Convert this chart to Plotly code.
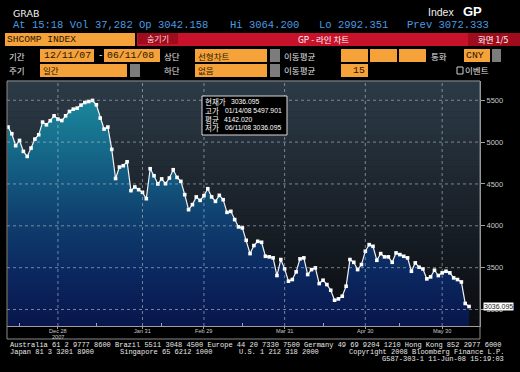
import plotly.graph_objects as go
import pandas as pd

# ---------------- data ----------------
holidays = ["2007-12-31", "2008-01-01", "2008-02-06", "2008-02-07", "2008-02-08",
            "2008-02-11", "2008-02-12", "2008-04-04", "2008-05-01", "2008-05-02", "2008-06-09"]
dates = [d for d in pd.bdate_range("2007-12-11", "2008-06-11") if d.strftime("%Y-%m-%d") not in holidays]
date_labels = [d.strftime("%Y-%m-%d") for d in dates]

values = [
    5180, 5100, 4957, 5020, 4889, 4829, 4929, 5036, 5088, 5239,
    5207, 5255, 5314, 5275, 5258, 5314, 5366, 5394, 5406, 5442,
    5473, 5485, 5497.901, 5446, 5287, 5156, 5180, 4913, 4565, 4702,
    4718, 4765, 4420, 4464, 4432, 4400, 4324, 4682, 4598, 4500,
    4560, 4503, 4571, 4670, 4578, 4531, 4372, 4193, 4253, 4345,
    4304, 4360, 4443, 4345, 4292, 4364, 4312, 4161, 4173, 4074,
    3987, 3975, 3827, 3668, 3764, 3815, 3803, 3636, 3629, 3617,
    3406, 3597, 3486, 3338, 3358, 3450, 3605, 3617, 3418, 3477,
    3497, 3310, 3350, 3298, 3230, 3111, 3127, 3159, 3278, 3597,
    3564, 3477, 3537, 3696, 3775, 3755, 3588, 3668, 3629, 3629,
    3564, 3676, 3656, 3636, 3617, 3457, 3557, 3505, 3485, 3366,
    3390, 3469, 3406, 3438, 3457, 3438, 3378, 3358, 3329, 3072.333,
    3036.095,
]

tick_dates = ["2007-12-28", "2008-01-31", "2008-02-29", "2008-03-31", "2008-04-30", "2008-05-30"]
tick_text = ["Dec 28", "Jan 31", "Feb 29", "Mar 31", "Apr 30", "May 30"]
year_label = "2007"
minor_dates = ["2007-12-14", "2008-01-15", "2008-02-14", "2008-03-14", "2008-04-15", "2008-05-15"]
y_ticks = [3000, 3500, 4000, 4500, 5000, 5500]
last_value = values[-1]

x_idx = list(range(len(values)))
tick_idx = [date_labels.index(d) for d in tick_dates]
minor_idx = [date_labels.index(d) for d in minor_dates]

# ---------------- geometry helpers ----------------
W, H = 520, 372
PL, PT, PW, PH = 7, 81, 473, 245
YMIN, YMAX = 2803, 5730
XMIN, XMAX = -0.26, 122.85


def px(x):
    return (x - PL) / PW


def py(y):
    return (PT + PH - y) / PH


shapes = []
annotations = []


def rect(x0, y0, x1, y1, color, line=None, layer="above"):
    shapes.append(dict(type="rect", xref="paper", yref="paper",
                       x0=px(x0), x1=px(x1), y0=py(y1), y1=py(y0),
                       fillcolor=color, layer=layer,
                       line=dict(width=1 if line else 0, color=line or color)))


def txt(x, y, s, size=9, color="#e6e6e6", family="Noto Sans CJK KR", anchor="left", bold=False):
    if bold:
        s = "<b>" + s + "</b>"
    annotations.append(dict(xref="paper", yref="paper", x=px(x), y=py(y), text=s,
                            showarrow=False, xanchor=anchor, yanchor="middle", borderpad=0,
                            font=dict(size=size, color=color, family=family)))


def hexmix(c1, c2, t):
    a = [int(c1[i:i + 2], 16) for i in (1, 3, 5)]
    b = [int(c2[i:i + 2], 16) for i in (1, 3, 5)]
    return "#%02x%02x%02x" % tuple(round(a[k] + (b[k] - a[k]) * t) for k in range(3))


# plot background gradient (bands)
NB = 40
for k in range(NB):
    t = k / (NB - 1)
    shapes.append(dict(type="rect", xref="paper", yref="paper", x0=0, x1=1,
                       y0=1 - (k + 1) / NB, y1=1 - k / NB + 0.002,
                       fillcolor=hexmix("#2c3a46", "#0a0c10", t), layer="below",
                       line=dict(width=0)))

# dotted gridlines above the fill
for v in y_ticks:
    shapes.append(dict(type="line", xref="paper", yref="y", x0=0, x1=1, y0=v, y1=v,
                       layer="above", line=dict(color="rgba(200,210,220,0.55)", width=1, dash="dot")))
for i in tick_idx:
    shapes.append(dict(type="line", xref="x", yref="paper", x0=i, x1=i, y0=0, y1=1,
                       layer="above", line=dict(color="rgba(200,210,220,0.55)", width=1, dash="dot")))

# tooltip box
rect(202, 96, 287, 135, "#000000", line="#d8d8d8")
for yy, lab in zip([101, 110, 119, 127], ["현재가", "고가", "평균", "저가"]):
    txt(203.5, yy, lab, size=7.5, color="#ffffff")
txt(230, 101.5, "3036.095", size=6.8, color="#ffffff", family="Liberation Sans")
txt(224, 110.5, "01/14/08 5497.901", size=6.8, color="#ffffff", family="Liberation Sans")
txt(223, 119.5, "4142.020", size=6.8, color="#ffffff", family="Liberation Sans")
txt(224, 127.5, "06/11/08 3036.095", size=6.8, color="#ffffff", family="Liberation Sans")

# chart panel border
shapes.append(dict(type="rect", xref="paper", yref="paper", x0=px(7), x1=px(480),
                   y0=py(339), y1=py(81), line=dict(color="#8a8a8a", width=1),
                   fillcolor="rgba(0,0,0,0)", layer="above"))

# x tick labels (drawn at the tick positions)
for i, lab in zip(tick_idx, tick_text):
    annotations.append(dict(xref="x", yref="paper", x=i, y=py(330.5), text=lab,
                            showarrow=False, xanchor="center", yanchor="middle", borderpad=0,
                            font=dict(size=5.6, color="#c8c8c8", family="Liberation Sans")))
annotations.append(dict(xref="x", yref="paper", x=tick_idx[0], y=py(336.8), text=year_label,
                        showarrow=False, xanchor="center", yanchor="middle", borderpad=0,
                        font=dict(size=5.6, color="#c8c8c8", family="Liberation Sans")))

# ---------------- header ----------------
txt(12, 13, "GRAB", size=9.5, color="#f0f0f0", family="DejaVu Sans")
txt(427, 12, "Index", size=10.5, color="#f0f0f0", family="Liberation Sans")
txt(462, 12, "GP", size=13, color="#ffffff", family="Liberation Sans", bold=True)
blue = "#4b9be0"
txt(12, 25, "At 15:18 Vol 37,282 Op 3042.158", size=10.5, color=blue, family="Liberation Mono")
txt(229, 25, "Hi 3064.200", size=10.5, color=blue, family="Liberation Mono")
txt(318, 25, "Lo 2992.351", size=10.5, color=blue, family="Liberation Mono")
txt(406, 25, "Prev 3072.333", size=10.5, color=blue, family="Liberation Mono")

ORANGE = "#f5a23a"
DARK = "#2a1600"
GRAY = "#7c7c7c"
RED = "#c8122c"
DRED = "#9e0c1e"

rect(5, 33, 135, 46, ORANGE)
txt(6, 39.5, "SHCOMP INDEX", size=9.6, color=DARK, family="Liberation Mono")
rect(137, 33, 520, 46, RED)
rect(138, 33, 178, 44, DRED)
txt(158, 38.5, "숨기기", size=8, color="#f4dede", anchor="center")
txt(323, 39.5, "GP - 라인 차트", size=8.5, color="#ffffff", anchor="center")
rect(468, 33, 520, 46, DRED)
txt(494, 39.5, "화면 1/5", size=8.5, color="#ffffff", anchor="center")

# row 4
r4 = 55.5
txt(8, r4, "기간", size=8.5)
rect(40, 49, 94, 62, ORANGE)
txt(43, r4, "12/11/07", size=9.8, color=DARK, family="Liberation Mono")
txt(97, r4, "-", size=9, color="#ffffff", family="Liberation Mono")
rect(104, 49, 160, 62, ORANGE)
txt(106, r4, "06/11/08", size=9.8, color=DARK, family="Liberation Mono")
txt(163, r4, "상단", size=8.5)
rect(195, 49, 267, 62, ORANGE)
txt(197, r4, "선형차트", size=8.5, color=DARK)
rect(267, 49, 270, 62, "#000000")
rect(270, 49, 280, 62, GRAY)
txt(283, r4, "이동평균", size=8.5)
rect(341, 49, 368, 62, ORANGE)
rect(370, 49, 397, 62, ORANGE)
rect(399, 49, 426, 62, ORANGE)
txt(430, r4, "통화", size=8.5)
rect(464, 49, 490, 62, ORANGE)
txt(465, r4, "CNY", size=9.8, color=DARK, family="Liberation Mono")
rect(490, 49, 492, 62, "#000000")
rect(492, 49, 501, 62, GRAY)

# row 5
r5 = 70.5
txt(8, r5, "주기", size=8.5)
rect(40, 64, 127, 77, ORANGE)
txt(42, r5, "일간", size=8.5, color=DARK)
rect(127, 64, 130, 77, "#000000")
rect(130, 64, 140, 77, GRAY)
txt(163, r5, "하단", size=8.5)
rect(195, 64, 267, 77, ORANGE)
txt(197, r5, "없음", size=8.5, color=DARK)
rect(267, 64, 270, 77, "#000000")
rect(270, 64, 280, 77, GRAY)
txt(283, r5, "이동평균", size=8.5)
rect(341, 64, 368, 77, ORANGE)
txt(366, r5, "15", size=9.8, color=DARK, family="Liberation Mono", anchor="right")
shapes.append(dict(type="rect", xref="paper", yref="paper", x0=px(457), x1=px(463),
                   y0=py(74), y1=py(67), line=dict(color="#d0d0d0", width=1),
                   fillcolor="rgba(0,0,0,0)"))
txt(464, r5, "이벤트", size=8.5)

# ---------------- footer ----------------
FOOT = "#e8e8e8"
FS = 7.0
txt(9, 344.5, "Australia 61 2 9777 8600 Brazil 5511 3048 4500 Europe 44 20 7330 7500 Germany 49 69 9204 1210 Hong Kong 852 2977 6000",
    size=FS, color=FOOT, family="Liberation Mono")
txt(9, 351.5, "Japan 81 3 3201 8900", size=FS, color=FOOT, family="Liberation Mono")
txt(119, 351.5, "Singapore 65 6212 1000", size=FS, color=FOOT, family="Liberation Mono")
txt(238, 351.5, "U.S. 1 212 318 2000", size=FS, color=FOOT, family="Liberation Mono")
txt(505, 351.5, "Copyright 2008 Bloomberg Finance L.P.", size=FS, color=FOOT, family="Liberation Mono", anchor="right")
txt(505, 358.5, "G587-303-1 11-Jun-08 15:19:03", size=FS, color=FOOT, family="Liberation Mono", anchor="right")

# last value label
annotations.append(dict(xref="paper", yref="y", x=1, y=last_value, text="3036.095",
                        showarrow=False, xanchor="left", yanchor="middle", xshift=3,
                        bgcolor="#ffffff", borderpad=0,
                        font=dict(size=7, color="#202020", family="Liberation Sans")))

# ---------------- figure ----------------
fig = go.Figure()
fig.add_trace(go.Scatter(
    x=x_idx, y=values, mode="lines+markers",
    line=dict(color="#f2f4f6", width=1.2),
    marker=dict(symbol="square", size=3.6, color="#ffffff"),
    fill="tozeroy",
    fillgradient=dict(type="vertical", start=YMIN, stop=YMAX,
                      colorscale=[[0, "#08164c"], [0.22, "#0b2860"], [0.45, "#0f416f"],
                                  [0.62, "#135a80"], [0.8, "#177590"], [1, "#1d93a6"]]),
    hoverinfo="skip", showlegend=False,
))

fig.update_layout(
    width=W, height=H,
    margin=dict(l=PL, r=W - PL - PW, t=PT, b=H - PT - PH),
    paper_bgcolor="#000000", plot_bgcolor="#0a0c10",
    shapes=shapes, annotations=annotations,
    xaxis=dict(range=[XMIN, XMAX], tickvals=tick_idx, showticklabels=False,
               showgrid=False, zeroline=False, showline=True, linecolor="#a0a0a0",
               ticks="outside", ticklen=2, tickcolor="#a0a0a0",
               minor=dict(tickvals=minor_idx, ticks="inside", ticklen=3, tickcolor="#a0a0a0")),
    yaxis=dict(range=[YMIN, YMAX], side="right", tickvals=y_ticks,
               showgrid=False, zeroline=False, showline=True, linecolor="#a0a0a0",
               ticks="outside", ticklen=4, tickcolor="#a0a0a0",
               tickfont=dict(size=7.5, color="#c8c8c8", family="Liberation Sans")),
)

fig.write_html("out.html", config={"displayModeBar": False},
               post_script="document.body.style.margin='0';document.body.style.background='#000';")
